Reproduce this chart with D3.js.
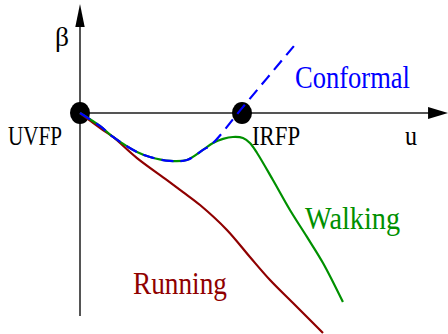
<!DOCTYPE html>
<html>
<head>
<meta charset="utf-8">
<script src="https://cdn.jsdelivr.net/npm/d3@7"></script>
<style>
  body { margin: 0; background: #fff; }
</style>
</head>
<body>
<div id="chart"></div>
<script>
// curves in (u, beta), UVFP at u=0, IRFP at u=1
let running = [[0, 0], [0.142, -0.105], [0.204, -0.148], [0.352, -0.278], [0.537, -0.414],
    [0.636, -0.488], [0.741, -0.568], [0.907, -0.722], [1.049, -0.889], [1.173, -1.031],
    [1.315, -1.173], [1.5, -1.358]];
let walking = [[0, 0], [0.123, -0.08], [0.204, -0.148], [0.352, -0.241], [0.432, -0.272],
    [0.556, -0.296], [0.66, -0.29], [0.759, -0.228], [0.821, -0.185], [0.883, -0.16],
    [0.944, -0.148], [1.006, -0.154], [1.049, -0.185], [1.093, -0.247], [1.191, -0.414],
    [1.296, -0.599], [1.401, -0.765], [1.5, -0.926], [1.623, -1.167]];
let conformal = [[0, 0], [0.123, -0.08], [0.204, -0.148], [0.352, -0.241], [0.432, -0.272],
    [0.556, -0.296], [0.66, -0.29], [0.759, -0.228], [0.815, -0.191], [1.0, 0.03], [1.346, 0.444]];
let fixedPoints = [{name: "UVFP", u: 0, beta: 0}, {name: "IRFP", u: 1, beta: 0}];
let labels = [
    {text: "β", u: -0.154, beta: 0.414, size: 27, len: 14, color: "#000"},
    {text: "UVFP", u: -0.444, beta: -0.198, size: 27, len: 54, color: "#000"},
    {text: "IRFP", u: 1.062, beta: -0.198, size: 27, len: 48, color: "#000"},
    {text: "u", u: 2.006, beta: -0.198, size: 27, len: 12, color: "#000"},
    {text: "Conformal", u: 1.327, beta: 0.154, size: 31, len: 115, color: "#0000ff"},
    {text: "Walking", u: 1.389, beta: -0.716, size: 31, len: 95, color: "#009000"},
    {text: "Running", u: 0.327, beta: -1.117, size: 31, len: 94, color: "#8f0000"}
];
let uMax = 2.272, betaMax = 0.673, betaMin = -1.253;

let width = 448, height = 334;
let x = d3.scaleLinear().domain([0, 1]).range([80, 242]);
let y = d3.scaleLinear().domain([0, -1]).range([113, 275]);

let svg = d3.select("#chart").append("svg")
    .attr("width", width)
    .attr("height", height);

// axes
svg.append("line")
    .attr("x1", x(0)).attr("y1", y(betaMin))
    .attr("x2", x(0)).attr("y2", y(betaMax) + 20)
    .attr("stroke", "#555").attr("stroke-width", 2);
svg.append("line")
    .attr("x1", x(0)).attr("y1", y(0))
    .attr("x2", x(uMax) - 18).attr("y2", y(0))
    .attr("stroke", "#555").attr("stroke-width", 2);
svg.append("path")
    .attr("d", `M${x(0)},${y(betaMax)} L${x(0) + 4.7},${y(betaMax) + 23} L${x(0) - 4.7},${y(betaMax) + 23} Z`)
    .attr("fill", "#000");
svg.append("path")
    .attr("d", `M${x(uMax)},${y(0)} L${x(uMax) - 20},${y(0) - 6} L${x(uMax) - 20},${y(0) + 6} Z`)
    .attr("fill", "#000");

svg.selectAll("ellipse.fp")
    .data(fixedPoints)
    .enter().append("ellipse")
    .attr("class", "fp")
    .attr("cx", d => x(d.u))
    .attr("cy", d => y(d.beta))
    .attr("rx", 10)
    .attr("ry", 11)
    .attr("fill", "#000");

let line = d3.line()
    .x(d => x(d[0]))
    .y(d => y(d[1]))
    .curve(d3.curveCatmullRom.alpha(0.5));

svg.append("path").datum(running)
    .attr("d", line).attr("fill", "none")
    .attr("stroke", "#8f0000").attr("stroke-width", 2.2);
svg.append("path").datum(walking)
    .attr("d", line).attr("fill", "none")
    .attr("stroke", "#009000").attr("stroke-width", 2.2);
svg.append("path").datum(conformal)
    .attr("d", line).attr("fill", "none")
    .attr("stroke", "#0000ff").attr("stroke-width", 2.2)
    .attr("stroke-dasharray", "12,7");

svg.selectAll("text.lbl")
    .data(labels)
    .enter().append("text")
    .attr("class", "lbl")
    .attr("x", d => x(d.u))
    .attr("y", d => y(d.beta))
    .style("font-family", '"Liberation Serif"')
    .attr("font-size", d => d.size)
    .attr("textLength", d => d.len)
    .attr("lengthAdjust", "spacingAndGlyphs")
    .attr("fill", d => d.color)
    .text(d => d.text);
</script>
</body>
</html>
